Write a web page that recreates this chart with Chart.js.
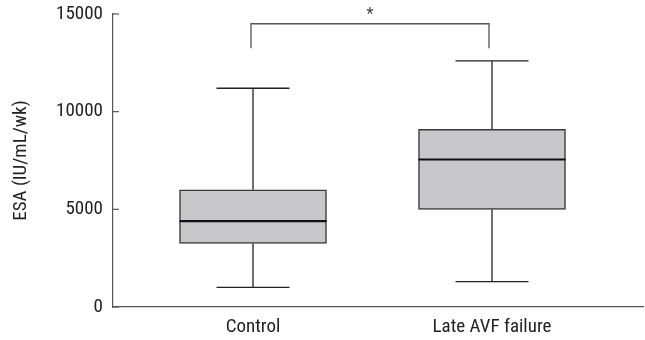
<!DOCTYPE html>
<html>
<head>
<meta charset="utf-8">
<script src="https://cdn.jsdelivr.net/npm/chart.js@4/dist/chart.umd.min.js"></script>
<style>
  html, body { margin: 0; padding: 0; background: #fff; }
  #wrap { width: 645px; height: 340px; }
</style>
</head>
<body>
<div id="wrap"><canvas id="boxChart"></canvas></div>
<script>
// data
const categories = ['Control', 'Late AVF failure'];
const whiskerLow = [1000, 1300];
const q1 = [3250, 5000];
const median = [4400, 7550];
const q3 = [6000, 9100];
const whiskerHigh = [11200, 12600];
const yTicks = [0, 5000, 10000, 15000];
const bracketTop = 14500;
const bracketLegEnd = 13250;
const bracketLabel = '*';

const FONT = '"Roboto Condensed", Roboto, sans-serif';
const TEXT = '#222';

// whiskers, caps, medians, inward ticks and the significance bracket
const boxExtras = {
    id: 'boxExtras',
    afterDatasetsDraw(chart) {
        const ctx = chart.ctx;
        const x = chart.scales.x;
        const y = chart.scales.y;
        ctx.save();

        categories.forEach(function(c, i) {
            const cx = x.getPixelForValue(i);
            const capHalf = 36.5;
            ctx.strokeStyle = '#222';
            ctx.lineWidth = 1.3;
            ctx.beginPath();
            ctx.moveTo(cx, y.getPixelForValue(q3[i]));
            ctx.lineTo(cx, y.getPixelForValue(whiskerHigh[i]));
            ctx.moveTo(cx, y.getPixelForValue(q1[i]));
            ctx.lineTo(cx, y.getPixelForValue(whiskerLow[i]));
            ctx.moveTo(cx - capHalf, y.getPixelForValue(whiskerHigh[i]));
            ctx.lineTo(cx + capHalf, y.getPixelForValue(whiskerHigh[i]));
            ctx.moveTo(cx - capHalf, y.getPixelForValue(whiskerLow[i]));
            ctx.lineTo(cx + capHalf, y.getPixelForValue(whiskerLow[i]));
            ctx.stroke();

            // median
            const bar = chart.getDatasetMeta(0).data[i];
            ctx.strokeStyle = '#111';
            ctx.lineWidth = 2.2;
            ctx.beginPath();
            ctx.moveTo(bar.x - bar.width / 2, y.getPixelForValue(median[i]));
            ctx.lineTo(bar.x + bar.width / 2, y.getPixelForValue(median[i]));
            ctx.stroke();
        });

        // inward ticks on y axis
        ctx.strokeStyle = '#555';
        ctx.lineWidth = 1.2;
        yTicks.forEach(function(v) {
            const py = y.getPixelForValue(v);
            ctx.beginPath();
            ctx.moveTo(y.right, py);
            ctx.lineTo(y.right + 6, py);
            ctx.stroke();
        });

        // significance bracket
        const x0 = x.getPixelForValue(0) - 2;
        const x1 = x.getPixelForValue(1) - 3;
        const top = y.getPixelForValue(bracketTop);
        const leg = y.getPixelForValue(bracketLegEnd);
        ctx.strokeStyle = '#555';
        ctx.lineWidth = 1.3;
        ctx.beginPath();
        ctx.moveTo(x0, leg);
        ctx.lineTo(x0, top);
        ctx.lineTo(x1, top);
        ctx.lineTo(x1, leg);
        ctx.stroke();

        ctx.fillStyle = '#444';
        ctx.font = '16px ' + FONT;
        ctx.textAlign = 'center';
        ctx.textBaseline = 'alphabetic';
        ctx.fillText(bracketLabel, (x0 + x1) / 2, top - 5);
        ctx.restore();
    }
};

const ctx = document.getElementById('boxChart').getContext('2d');
new Chart(ctx, {
    type: 'bar',
    data: {
        datasets: [{
            data: categories.map(function(c, i) { return { x: i, y: [q1[i], q3[i]] }; }),
            backgroundColor: '#c8c8ca',
            borderColor: '#3a3a3a',
            borderWidth: 1.5,
            borderSkipped: false,
            barThickness: 147
        }]
    },
    options: {
        responsive: true,
        maintainAspectRatio: false,
        animation: false,
        layout: { padding: { top: 14, right: 2, left: 0, bottom: 0 } },
        plugins: { legend: { display: false }, tooltip: { enabled: false } },
        scales: {
            x: {
                type: 'linear',
                offset: false,
                min: -0.5858,
                max: 1.6318,
                afterBuildTicks: function(scale) {
                    scale.ticks = categories.map(function(c, i) { return { value: i }; });
                },
                afterFit: function(scale) { scale.height = 33; },
                grid: { display: false, drawTicks: true, tickLength: 9 },
                border: { display: true, color: '#555', width: 1.2 },
                ticks: {
                    autoSkip: false,
                    maxRotation: 0,
                    padding: 0,
                    color: TEXT,
                    font: { family: FONT, size: 19 },
                    callback: function(v) { return categories[v]; }
                }
            },
            y: {
                min: 0,
                max: 15000,
                afterBuildTicks: function(scale) {
                    scale.ticks = yTicks.map(function(v) { return { value: v }; });
                },
                afterFit: function(scale) { scale.width = 113; },
                grid: { display: false, drawTicks: true, tickLength: 10 },
                border: { display: true, color: '#555', width: 1.2 },
                ticks: {
                    padding: 0,
                    color: TEXT,
                    font: { family: FONT, size: 19 },
                    callback: function(v) { return String(v); }
                },
                title: {
                    display: true,
                    text: 'ESA (IU/mL/wk)',
                    color: TEXT,
                    font: { family: FONT, size: 19 },
                    padding: { top: 10, bottom: 0 }
                }
            }
        }
    },
    plugins: [boxExtras]
});
</script>
</body>
</html>
